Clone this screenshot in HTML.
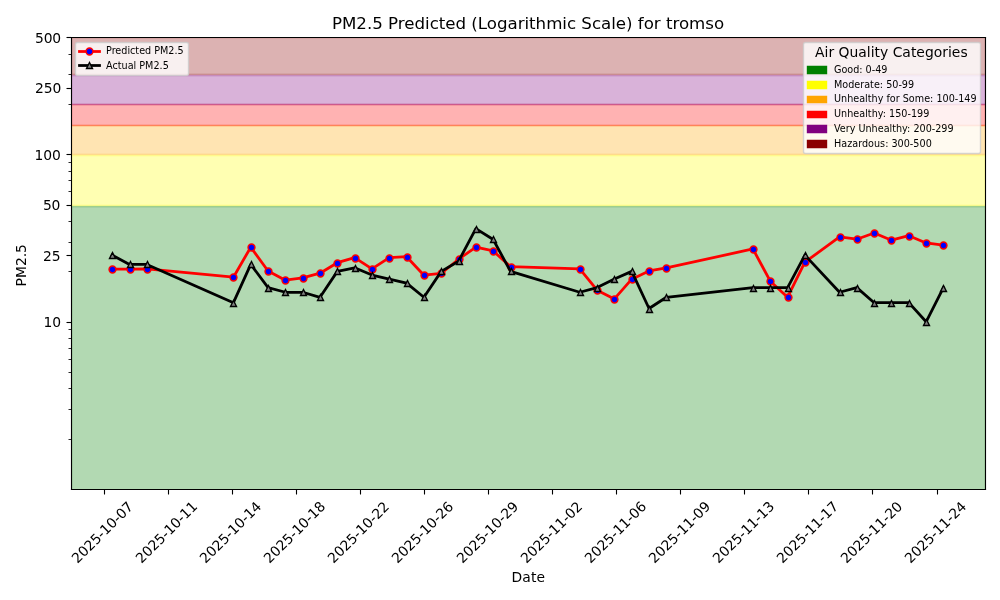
<!DOCTYPE html>
<html lang="en"><head><meta charset="utf-8"><title>PM2.5 Predicted (Logarithmic Scale) for tromso</title>
<style>html,body{margin:0;padding:0;background:#fff;overflow:hidden}body{width:1000px;height:600px}text{fill:#000;white-space:pre}</style>
</head><body>
<svg width="1000" height="600" viewBox="0 0 1000 600" style="display:block;font-family:'DejaVu Sans','Liberation Sans',sans-serif">
<defs><clipPath id="c0"><rect x="71" y="37" width="914" height="452"/></clipPath></defs>
<path d="M0 600L1000 600L1000 0L0 0Z" fill="#ffffff"/>
<path d="M71 489L985 489L985 37L71 37Z" fill="#ffffff"/>
<path d="M71.5 3000L985.5 3000L985.5 206.5L71.5 206.5Z" fill="#008000" fill-opacity="0.3" stroke="#008000" stroke-width="1.39" stroke-opacity="0.3" clip-path="url(#c0)"/>
<path d="M71.5 205.5L985.5 205.5L985.5 155.5L71.5 155.5Z" fill="#ffff00" fill-opacity="0.3" stroke="#ffff00" stroke-width="1.39" stroke-opacity="0.3" clip-path="url(#c0)"/>
<path d="M71.5 154.5L985.5 154.5L985.5 125.5L71.5 125.5Z" fill="#ffa500" fill-opacity="0.3" stroke="#ffa500" stroke-width="1.39" stroke-opacity="0.3" clip-path="url(#c0)"/>
<path d="M71.5 125.5L985.5 125.5L985.5 104.5L71.5 104.5Z" fill="#ff0000" fill-opacity="0.3" stroke="#ff0000" stroke-width="1.39" stroke-opacity="0.3" clip-path="url(#c0)"/>
<path d="M71.5 104.5L985.5 104.5L985.5 75.5L71.5 75.5Z" fill="#800080" fill-opacity="0.3" stroke="#800080" stroke-width="1.39" stroke-opacity="0.3" clip-path="url(#c0)"/>
<path d="M71.5 74.5L985.5 74.5L985.5 37.5L71.5 37.5Z" fill="#8b0000" fill-opacity="0.3" stroke="#8b0000" stroke-width="1.39" stroke-opacity="0.3" clip-path="url(#c0)"/>
<g fill="#000000" stroke="#000000" stroke-width="1.11" stroke-linejoin="round"><path d="M104.5 489.5L104.5 494.5"/></g>
<text font-size="13.89" textLength="79.88" transform="translate(77.59 564) rotate(-45)">2025-10-07</text>
<g fill="#000000" stroke="#000000" stroke-width="1.11" stroke-linejoin="round"><path d="M168.5 489.5L168.5 494.5"/></g>
<text font-size="13.89" textLength="80.12" transform="translate(141.59 564) rotate(-45)">2025-10-11</text>
<g fill="#000000" stroke="#000000" stroke-width="1.11" stroke-linejoin="round"><path d="M232.5 489.5L232.5 494.5"/></g>
<text font-size="13.89" textLength="80" transform="translate(205.59 564) rotate(-45)">2025-10-14</text>
<g fill="#000000" stroke="#000000" stroke-width="1.11" stroke-linejoin="round"><path d="M296.5 489.5L296.5 494.5"/></g>
<text font-size="13.89" textLength="80.12" transform="translate(269.59 564) rotate(-45)">2025-10-18</text>
<g fill="#000000" stroke="#000000" stroke-width="1.11" stroke-linejoin="round"><path d="M360.5 489.5L360.5 494.5"/></g>
<text font-size="13.89" textLength="79.88" transform="translate(333.59 564) rotate(-45)">2025-10-22</text>
<g fill="#000000" stroke="#000000" stroke-width="1.11" stroke-linejoin="round"><path d="M424.5 489.5L424.5 494.5"/></g>
<text font-size="13.89" textLength="80" transform="translate(397.59 564) rotate(-45)">2025-10-26</text>
<g fill="#000000" stroke="#000000" stroke-width="1.11" stroke-linejoin="round"><path d="M488.5 489.5L488.5 494.5"/></g>
<text font-size="13.89" textLength="80" transform="translate(462.59 564) rotate(-45)">2025-10-29</text>
<g fill="#000000" stroke="#000000" stroke-width="1.11" stroke-linejoin="round"><path d="M552.5 489.5L552.5 494.5"/></g>
<text font-size="13.89" textLength="80" transform="translate(526.59 564) rotate(-45)">2025-11-02</text>
<g fill="#000000" stroke="#000000" stroke-width="1.11" stroke-linejoin="round"><path d="M616.5 489.5L616.5 494.5"/></g>
<text font-size="13.89" textLength="80.12" transform="translate(590.59 564) rotate(-45)">2025-11-06</text>
<g fill="#000000" stroke="#000000" stroke-width="1.11" stroke-linejoin="round"><path d="M680.5 489.5L680.5 494.5"/></g>
<text font-size="13.89" textLength="80.12" transform="translate(654.59 564) rotate(-45)">2025-11-09</text>
<g fill="#000000" stroke="#000000" stroke-width="1.11" stroke-linejoin="round"><path d="M744.5 489.5L744.5 494.5"/></g>
<text font-size="13.89" textLength="80.12" transform="translate(718.59 564) rotate(-45)">2025-11-13</text>
<g fill="#000000" stroke="#000000" stroke-width="1.11" stroke-linejoin="round"><path d="M808.5 489.5L808.5 494.5"/></g>
<text font-size="13.89" textLength="80.12" transform="translate(782.59 564) rotate(-45)">2025-11-17</text>
<g fill="#000000" stroke="#000000" stroke-width="1.11" stroke-linejoin="round"><path d="M872.5 489.5L872.5 494.5"/></g>
<text font-size="13.89" textLength="80" transform="translate(846.59 564) rotate(-45)">2025-11-20</text>
<g fill="#000000" stroke="#000000" stroke-width="1.11" stroke-linejoin="round"><path d="M937.5 489.5L937.5 494.5"/></g>
<text font-size="13.89" textLength="80" transform="translate(910.59 564) rotate(-45)">2025-11-24</text>
<text font-size="13.89" textLength="33.38" x="511.62" y="582">Date</text>
<g fill="#000000" stroke="#000000" stroke-width="1.11" stroke-linejoin="round"><path d="M71.5 322.5L66.5 322.5"/></g>
<text font-size="13.89" textLength="17.62" x="43.44" y="327">10</text>
<g fill="#000000" stroke="#000000" stroke-width="1.11" stroke-linejoin="round"><path d="M71.5 255.5L66.5 255.5"/></g>
<text font-size="13.89" textLength="17.5" x="43" y="261">25</text>
<g fill="#000000" stroke="#000000" stroke-width="1.11" stroke-linejoin="round"><path d="M71.5 205.5L66.5 205.5"/></g>
<text font-size="13.89" textLength="17.5" x="42.94" y="210">50</text>
<g fill="#000000" stroke="#000000" stroke-width="1.11" stroke-linejoin="round"><path d="M71.5 154.5L66.5 154.5"/></g>
<text font-size="13.89" textLength="26.38" x="34.44" y="160">100</text>
<g fill="#000000" stroke="#000000" stroke-width="1.11" stroke-linejoin="round"><path d="M71.5 88.5L66.5 88.5"/></g>
<text font-size="13.89" textLength="26.25" x="35" y="93">250</text>
<g fill="#000000" stroke="#000000" stroke-width="1.11" stroke-linejoin="round"><path d="M71.5 37.5L66.5 37.5"/></g>
<text font-size="13.89" textLength="26.25" x="34.94" y="43">500</text>
<g fill="#000000" stroke="#000000" stroke-width="0.83" stroke-linejoin="round"><path d="M71.5 439.5L68.5 439.5"/></g>
<g fill="#000000" stroke="#000000" stroke-width="0.83" stroke-linejoin="round"><path d="M71.5 409.5L68.5 409.5"/></g>
<g fill="#000000" stroke="#000000" stroke-width="0.83" stroke-linejoin="round"><path d="M71.5 388.5L68.5 388.5"/></g>
<g fill="#000000" stroke="#000000" stroke-width="0.83" stroke-linejoin="round"><path d="M71.5 372.5L68.5 372.5"/></g>
<g fill="#000000" stroke="#000000" stroke-width="0.83" stroke-linejoin="round"><path d="M71.5 359.5L68.5 359.5"/></g>
<g fill="#000000" stroke="#000000" stroke-width="0.83" stroke-linejoin="round"><path d="M71.5 348.5L68.5 348.5"/></g>
<g fill="#000000" stroke="#000000" stroke-width="0.83" stroke-linejoin="round"><path d="M71.5 338.5L68.5 338.5"/></g>
<g fill="#000000" stroke="#000000" stroke-width="0.83" stroke-linejoin="round"><path d="M71.5 329.5L68.5 329.5"/></g>
<g fill="#000000" stroke="#000000" stroke-width="0.83" stroke-linejoin="round"><path d="M71.5 271.5L68.5 271.5"/></g>
<g fill="#000000" stroke="#000000" stroke-width="0.83" stroke-linejoin="round"><path d="M71.5 242.5L68.5 242.5"/></g>
<g fill="#000000" stroke="#000000" stroke-width="0.83" stroke-linejoin="round"><path d="M71.5 221.5L68.5 221.5"/></g>
<g fill="#000000" stroke="#000000" stroke-width="0.83" stroke-linejoin="round"><path d="M71.5 191.5L68.5 191.5"/></g>
<g fill="#000000" stroke="#000000" stroke-width="0.83" stroke-linejoin="round"><path d="M71.5 180.5L68.5 180.5"/></g>
<g fill="#000000" stroke="#000000" stroke-width="0.83" stroke-linejoin="round"><path d="M71.5 171.5L68.5 171.5"/></g>
<g fill="#000000" stroke="#000000" stroke-width="0.83" stroke-linejoin="round"><path d="M71.5 162.5L68.5 162.5"/></g>
<g fill="#000000" stroke="#000000" stroke-width="0.83" stroke-linejoin="round"><path d="M71.5 104.5L68.5 104.5"/></g>
<g fill="#000000" stroke="#000000" stroke-width="0.83" stroke-linejoin="round"><path d="M71.5 74.5L68.5 74.5"/></g>
<g fill="#000000" stroke="#000000" stroke-width="0.83" stroke-linejoin="round"><path d="M71.5 54.5L68.5 54.5"/></g>
<text font-size="13.89" textLength="42.25" transform="translate(26 286.38) rotate(-90)">PM2.5</text>
<path d="M112.21 269.2L129.53 269.2L146.85 268.95L233.43 277.2L250.75 247.2L268.07 270.95L285.39 280.2L302.7 277.8L320.02 273.2L337.34 262.7L354.65 257.7L371.97 268.95L389.29 257.7L406.61 256.7L423.92 275.2L441.24 273.45L458.56 259.2L475.87 247.2L493.19 250.95L510.51 266.7L579.78 268.95L597.1 290.2L614.41 298.95L631.73 279.2L649.05 270.95L666.36 267.95L752.95 248.95L770.27 281.2L787.58 297.2L804.9 262.2L839.54 236.95L856.85 239.2L874.17 232.95L891.49 240.2L908.8 235.7L926.12 242.95L943.44 245.2" fill="none" stroke="#ff0000" stroke-width="2.78" stroke-linejoin="round" stroke-linecap="square" clip-path="url(#c0)"/>
<g fill="#0000ff" stroke="#ff0000" stroke-width="1.39" stroke-linejoin="round" clip-path="url(#c0)"><path d="M112.5 272.97C113.42 272.97 114.3 272.61 114.96 271.96C115.61 271.3 115.97 270.42 115.97 269.5C115.97 268.58 115.61 267.7 114.96 267.04C114.3 266.39 113.42 266.03 112.5 266.03C111.58 266.03 110.7 266.39 110.04 267.04C109.39 267.7 109.03 268.58 109.03 269.5C109.03 270.42 109.39 271.3 110.04 271.96C110.7 272.61 111.58 272.97 112.5 272.97Z"/><path d="M130.5 272.97C131.42 272.97 132.3 272.61 132.96 271.96C133.61 271.3 133.97 270.42 133.97 269.5C133.97 268.58 133.61 267.7 132.96 267.04C132.3 266.39 131.42 266.03 130.5 266.03C129.58 266.03 128.7 266.39 128.04 267.04C127.39 267.7 127.03 268.58 127.03 269.5C127.03 270.42 127.39 271.3 128.04 271.96C128.7 272.61 129.58 272.97 130.5 272.97Z"/><path d="M147.5 272.97C148.42 272.97 149.3 272.61 149.96 271.96C150.61 271.3 150.97 270.42 150.97 269.5C150.97 268.58 150.61 267.7 149.96 267.04C149.3 266.39 148.42 266.03 147.5 266.03C146.58 266.03 145.7 266.39 145.04 267.04C144.39 267.7 144.03 268.58 144.03 269.5C144.03 270.42 144.39 271.3 145.04 271.96C145.7 272.61 146.58 272.97 147.5 272.97Z"/><path d="M233.5 280.97C234.42 280.97 235.3 280.61 235.96 279.96C236.61 279.3 236.97 278.42 236.97 277.5C236.97 276.58 236.61 275.7 235.96 275.04C235.3 274.39 234.42 274.03 233.5 274.03C232.58 274.03 231.7 274.39 231.04 275.04C230.39 275.7 230.03 276.58 230.03 277.5C230.03 278.42 230.39 279.3 231.04 279.96C231.7 280.61 232.58 280.97 233.5 280.97Z"/><path d="M251.5 250.97C252.42 250.97 253.3 250.61 253.96 249.96C254.61 249.3 254.97 248.42 254.97 247.5C254.97 246.58 254.61 245.7 253.96 245.04C253.3 244.39 252.42 244.03 251.5 244.03C250.58 244.03 249.7 244.39 249.04 245.04C248.39 245.7 248.03 246.58 248.03 247.5C248.03 248.42 248.39 249.3 249.04 249.96C249.7 250.61 250.58 250.97 251.5 250.97Z"/><path d="M268.5 274.97C269.42 274.97 270.3 274.61 270.96 273.96C271.61 273.3 271.97 272.42 271.97 271.5C271.97 270.58 271.61 269.7 270.96 269.04C270.3 268.39 269.42 268.03 268.5 268.03C267.58 268.03 266.7 268.39 266.04 269.04C265.39 269.7 265.03 270.58 265.03 271.5C265.03 272.42 265.39 273.3 266.04 273.96C266.7 274.61 267.58 274.97 268.5 274.97Z"/><path d="M285.5 283.97C286.42 283.97 287.3 283.61 287.96 282.96C288.61 282.3 288.97 281.42 288.97 280.5C288.97 279.58 288.61 278.7 287.96 278.04C287.3 277.39 286.42 277.03 285.5 277.03C284.58 277.03 283.7 277.39 283.04 278.04C282.39 278.7 282.03 279.58 282.03 280.5C282.03 281.42 282.39 282.3 283.04 282.96C283.7 283.61 284.58 283.97 285.5 283.97Z"/><path d="M303.5 281.97C304.42 281.97 305.3 281.61 305.96 280.96C306.61 280.3 306.97 279.42 306.97 278.5C306.97 277.58 306.61 276.7 305.96 276.04C305.3 275.39 304.42 275.03 303.5 275.03C302.58 275.03 301.7 275.39 301.04 276.04C300.39 276.7 300.03 277.58 300.03 278.5C300.03 279.42 300.39 280.3 301.04 280.96C301.7 281.61 302.58 281.97 303.5 281.97Z"/><path d="M320.5 276.97C321.42 276.97 322.3 276.61 322.96 275.96C323.61 275.3 323.97 274.42 323.97 273.5C323.97 272.58 323.61 271.7 322.96 271.04C322.3 270.39 321.42 270.03 320.5 270.03C319.58 270.03 318.7 270.39 318.04 271.04C317.39 271.7 317.03 272.58 317.03 273.5C317.03 274.42 317.39 275.3 318.04 275.96C318.7 276.61 319.58 276.97 320.5 276.97Z"/><path d="M337.5 266.97C338.42 266.97 339.3 266.61 339.96 265.96C340.61 265.3 340.97 264.42 340.97 263.5C340.97 262.58 340.61 261.7 339.96 261.04C339.3 260.39 338.42 260.03 337.5 260.03C336.58 260.03 335.7 260.39 335.04 261.04C334.39 261.7 334.03 262.58 334.03 263.5C334.03 264.42 334.39 265.3 335.04 265.96C335.7 266.61 336.58 266.97 337.5 266.97Z"/><path d="M355.5 261.97C356.42 261.97 357.3 261.61 357.96 260.96C358.61 260.3 358.97 259.42 358.97 258.5C358.97 257.58 358.61 256.7 357.96 256.04C357.3 255.39 356.42 255.03 355.5 255.03C354.58 255.03 353.7 255.39 353.04 256.04C352.39 256.7 352.03 257.58 352.03 258.5C352.03 259.42 352.39 260.3 353.04 260.96C353.7 261.61 354.58 261.97 355.5 261.97Z"/><path d="M372.5 272.97C373.42 272.97 374.3 272.61 374.96 271.96C375.61 271.3 375.97 270.42 375.97 269.5C375.97 268.58 375.61 267.7 374.96 267.04C374.3 266.39 373.42 266.03 372.5 266.03C371.58 266.03 370.7 266.39 370.04 267.04C369.39 267.7 369.03 268.58 369.03 269.5C369.03 270.42 369.39 271.3 370.04 271.96C370.7 272.61 371.58 272.97 372.5 272.97Z"/><path d="M389.5 261.97C390.42 261.97 391.3 261.61 391.96 260.96C392.61 260.3 392.97 259.42 392.97 258.5C392.97 257.58 392.61 256.7 391.96 256.04C391.3 255.39 390.42 255.03 389.5 255.03C388.58 255.03 387.7 255.39 387.04 256.04C386.39 256.7 386.03 257.58 386.03 258.5C386.03 259.42 386.39 260.3 387.04 260.96C387.7 261.61 388.58 261.97 389.5 261.97Z"/><path d="M407.5 260.97C408.42 260.97 409.3 260.61 409.96 259.96C410.61 259.3 410.97 258.42 410.97 257.5C410.97 256.58 410.61 255.7 409.96 255.04C409.3 254.39 408.42 254.03 407.5 254.03C406.58 254.03 405.7 254.39 405.04 255.04C404.39 255.7 404.03 256.58 404.03 257.5C404.03 258.42 404.39 259.3 405.04 259.96C405.7 260.61 406.58 260.97 407.5 260.97Z"/><path d="M424.5 278.97C425.42 278.97 426.3 278.61 426.96 277.96C427.61 277.3 427.97 276.42 427.97 275.5C427.97 274.58 427.61 273.7 426.96 273.04C426.3 272.39 425.42 272.03 424.5 272.03C423.58 272.03 422.7 272.39 422.04 273.04C421.39 273.7 421.03 274.58 421.03 275.5C421.03 276.42 421.39 277.3 422.04 277.96C422.7 278.61 423.58 278.97 424.5 278.97Z"/><path d="M441.5 276.97C442.42 276.97 443.3 276.61 443.96 275.96C444.61 275.3 444.97 274.42 444.97 273.5C444.97 272.58 444.61 271.7 443.96 271.04C443.3 270.39 442.42 270.03 441.5 270.03C440.58 270.03 439.7 270.39 439.04 271.04C438.39 271.7 438.03 272.58 438.03 273.5C438.03 274.42 438.39 275.3 439.04 275.96C439.7 276.61 440.58 276.97 441.5 276.97Z"/><path d="M459.5 262.97C460.42 262.97 461.3 262.61 461.96 261.96C462.61 261.3 462.97 260.42 462.97 259.5C462.97 258.58 462.61 257.7 461.96 257.04C461.3 256.39 460.42 256.03 459.5 256.03C458.58 256.03 457.7 256.39 457.04 257.04C456.39 257.7 456.03 258.58 456.03 259.5C456.03 260.42 456.39 261.3 457.04 261.96C457.7 262.61 458.58 262.97 459.5 262.97Z"/><path d="M476.5 250.97C477.42 250.97 478.3 250.61 478.96 249.96C479.61 249.3 479.97 248.42 479.97 247.5C479.97 246.58 479.61 245.7 478.96 245.04C478.3 244.39 477.42 244.03 476.5 244.03C475.58 244.03 474.7 244.39 474.04 245.04C473.39 245.7 473.03 246.58 473.03 247.5C473.03 248.42 473.39 249.3 474.04 249.96C474.7 250.61 475.58 250.97 476.5 250.97Z"/><path d="M493.5 254.97C494.42 254.97 495.3 254.61 495.96 253.96C496.61 253.3 496.97 252.42 496.97 251.5C496.97 250.58 496.61 249.7 495.96 249.04C495.3 248.39 494.42 248.03 493.5 248.03C492.58 248.03 491.7 248.39 491.04 249.04C490.39 249.7 490.03 250.58 490.03 251.5C490.03 252.42 490.39 253.3 491.04 253.96C491.7 254.61 492.58 254.97 493.5 254.97Z"/><path d="M511.5 270.97C512.42 270.97 513.3 270.61 513.96 269.96C514.61 269.3 514.97 268.42 514.97 267.5C514.97 266.58 514.61 265.7 513.96 265.04C513.3 264.39 512.42 264.03 511.5 264.03C510.58 264.03 509.7 264.39 509.04 265.04C508.39 265.7 508.03 266.58 508.03 267.5C508.03 268.42 508.39 269.3 509.04 269.96C509.7 270.61 510.58 270.97 511.5 270.97Z"/><path d="M580.5 272.97C581.42 272.97 582.3 272.61 582.96 271.96C583.61 271.3 583.97 270.42 583.97 269.5C583.97 268.58 583.61 267.7 582.96 267.04C582.3 266.39 581.42 266.03 580.5 266.03C579.58 266.03 578.7 266.39 578.04 267.04C577.39 267.7 577.03 268.58 577.03 269.5C577.03 270.42 577.39 271.3 578.04 271.96C578.7 272.61 579.58 272.97 580.5 272.97Z"/><path d="M597.5 293.97C598.42 293.97 599.3 293.61 599.96 292.96C600.61 292.3 600.97 291.42 600.97 290.5C600.97 289.58 600.61 288.7 599.96 288.04C599.3 287.39 598.42 287.03 597.5 287.03C596.58 287.03 595.7 287.39 595.04 288.04C594.39 288.7 594.03 289.58 594.03 290.5C594.03 291.42 594.39 292.3 595.04 292.96C595.7 293.61 596.58 293.97 597.5 293.97Z"/><path d="M614.5 302.97C615.42 302.97 616.3 302.61 616.96 301.96C617.61 301.3 617.97 300.42 617.97 299.5C617.97 298.58 617.61 297.7 616.96 297.04C616.3 296.39 615.42 296.03 614.5 296.03C613.58 296.03 612.7 296.39 612.04 297.04C611.39 297.7 611.03 298.58 611.03 299.5C611.03 300.42 611.39 301.3 612.04 301.96C612.7 302.61 613.58 302.97 614.5 302.97Z"/><path d="M632.5 282.97C633.42 282.97 634.3 282.61 634.96 281.96C635.61 281.3 635.97 280.42 635.97 279.5C635.97 278.58 635.61 277.7 634.96 277.04C634.3 276.39 633.42 276.03 632.5 276.03C631.58 276.03 630.7 276.39 630.04 277.04C629.39 277.7 629.03 278.58 629.03 279.5C629.03 280.42 629.39 281.3 630.04 281.96C630.7 282.61 631.58 282.97 632.5 282.97Z"/><path d="M649.5 274.97C650.42 274.97 651.3 274.61 651.96 273.96C652.61 273.3 652.97 272.42 652.97 271.5C652.97 270.58 652.61 269.7 651.96 269.04C651.3 268.39 650.42 268.03 649.5 268.03C648.58 268.03 647.7 268.39 647.04 269.04C646.39 269.7 646.03 270.58 646.03 271.5C646.03 272.42 646.39 273.3 647.04 273.96C647.7 274.61 648.58 274.97 649.5 274.97Z"/><path d="M666.5 271.97C667.42 271.97 668.3 271.61 668.96 270.96C669.61 270.3 669.97 269.42 669.97 268.5C669.97 267.58 669.61 266.7 668.96 266.04C668.3 265.39 667.42 265.03 666.5 265.03C665.58 265.03 664.7 265.39 664.04 266.04C663.39 266.7 663.03 267.58 663.03 268.5C663.03 269.42 663.39 270.3 664.04 270.96C664.7 271.61 665.58 271.97 666.5 271.97Z"/><path d="M753.5 252.97C754.42 252.97 755.3 252.61 755.96 251.96C756.61 251.3 756.97 250.42 756.97 249.5C756.97 248.58 756.61 247.7 755.96 247.04C755.3 246.39 754.42 246.03 753.5 246.03C752.58 246.03 751.7 246.39 751.04 247.04C750.39 247.7 750.03 248.58 750.03 249.5C750.03 250.42 750.39 251.3 751.04 251.96C751.7 252.61 752.58 252.97 753.5 252.97Z"/><path d="M770.5 284.97C771.42 284.97 772.3 284.61 772.96 283.96C773.61 283.3 773.97 282.42 773.97 281.5C773.97 280.58 773.61 279.7 772.96 279.04C772.3 278.39 771.42 278.03 770.5 278.03C769.58 278.03 768.7 278.39 768.04 279.04C767.39 279.7 767.03 280.58 767.03 281.5C767.03 282.42 767.39 283.3 768.04 283.96C768.7 284.61 769.58 284.97 770.5 284.97Z"/><path d="M788.5 300.97C789.42 300.97 790.3 300.61 790.96 299.96C791.61 299.3 791.97 298.42 791.97 297.5C791.97 296.58 791.61 295.7 790.96 295.04C790.3 294.39 789.42 294.03 788.5 294.03C787.58 294.03 786.7 294.39 786.04 295.04C785.39 295.7 785.03 296.58 785.03 297.5C785.03 298.42 785.39 299.3 786.04 299.96C786.7 300.61 787.58 300.97 788.5 300.97Z"/><path d="M805.5 265.97C806.42 265.97 807.3 265.61 807.96 264.96C808.61 264.3 808.97 263.42 808.97 262.5C808.97 261.58 808.61 260.7 807.96 260.04C807.3 259.39 806.42 259.03 805.5 259.03C804.58 259.03 803.7 259.39 803.04 260.04C802.39 260.7 802.03 261.58 802.03 262.5C802.03 263.42 802.39 264.3 803.04 264.96C803.7 265.61 804.58 265.97 805.5 265.97Z"/><path d="M840.5 240.97C841.42 240.97 842.3 240.61 842.96 239.96C843.61 239.3 843.97 238.42 843.97 237.5C843.97 236.58 843.61 235.7 842.96 235.04C842.3 234.39 841.42 234.03 840.5 234.03C839.58 234.03 838.7 234.39 838.04 235.04C837.39 235.7 837.03 236.58 837.03 237.5C837.03 238.42 837.39 239.3 838.04 239.96C838.7 240.61 839.58 240.97 840.5 240.97Z"/><path d="M857.5 242.97C858.42 242.97 859.3 242.61 859.96 241.96C860.61 241.3 860.97 240.42 860.97 239.5C860.97 238.58 860.61 237.7 859.96 237.04C859.3 236.39 858.42 236.03 857.5 236.03C856.58 236.03 855.7 236.39 855.04 237.04C854.39 237.7 854.03 238.58 854.03 239.5C854.03 240.42 854.39 241.3 855.04 241.96C855.7 242.61 856.58 242.97 857.5 242.97Z"/><path d="M874.5 236.97C875.42 236.97 876.3 236.61 876.96 235.96C877.61 235.3 877.97 234.42 877.97 233.5C877.97 232.58 877.61 231.7 876.96 231.04C876.3 230.39 875.42 230.03 874.5 230.03C873.58 230.03 872.7 230.39 872.04 231.04C871.39 231.7 871.03 232.58 871.03 233.5C871.03 234.42 871.39 235.3 872.04 235.96C872.7 236.61 873.58 236.97 874.5 236.97Z"/><path d="M891.5 243.97C892.42 243.97 893.3 243.61 893.96 242.96C894.61 242.3 894.97 241.42 894.97 240.5C894.97 239.58 894.61 238.7 893.96 238.04C893.3 237.39 892.42 237.03 891.5 237.03C890.58 237.03 889.7 237.39 889.04 238.04C888.39 238.7 888.03 239.58 888.03 240.5C888.03 241.42 888.39 242.3 889.04 242.96C889.7 243.61 890.58 243.97 891.5 243.97Z"/><path d="M909.5 239.97C910.42 239.97 911.3 239.61 911.96 238.96C912.61 238.3 912.97 237.42 912.97 236.5C912.97 235.58 912.61 234.7 911.96 234.04C911.3 233.39 910.42 233.03 909.5 233.03C908.58 233.03 907.7 233.39 907.04 234.04C906.39 234.7 906.03 235.58 906.03 236.5C906.03 237.42 906.39 238.3 907.04 238.96C907.7 239.61 908.58 239.97 909.5 239.97Z"/><path d="M926.5 246.97C927.42 246.97 928.3 246.61 928.96 245.96C929.61 245.3 929.97 244.42 929.97 243.5C929.97 242.58 929.61 241.7 928.96 241.04C928.3 240.39 927.42 240.03 926.5 240.03C925.58 240.03 924.7 240.39 924.04 241.04C923.39 241.7 923.03 242.58 923.03 243.5C923.03 244.42 923.39 245.3 924.04 245.96C924.7 246.61 925.58 246.97 926.5 246.97Z"/><path d="M943.5 248.97C944.42 248.97 945.3 248.61 945.96 247.96C946.61 247.3 946.97 246.42 946.97 245.5C946.97 244.58 946.61 243.7 945.96 243.04C945.3 242.39 944.42 242.03 943.5 242.03C942.58 242.03 941.7 242.39 941.04 243.04C940.39 243.7 940.03 244.58 940.03 245.5C940.03 246.42 940.39 247.3 941.04 247.96C941.7 248.61 942.58 248.97 943.5 248.97Z"/></g>
<path d="M112.21 255.14L129.53 264.43L146.85 264.43L233.43 302.68L250.75 264.43L268.07 287.59L285.39 292.28L302.7 292.28L320.02 297.29L337.34 271.36L354.65 267.81L371.97 275.09L389.29 279.02L406.61 283.18L423.92 297.29L441.24 271.36L458.56 261.2L475.87 228.63L493.19 239.5L510.51 271.36L579.78 292.28L597.1 287.59L614.41 279.02L631.73 271.36L649.05 308.5L666.36 297.29L752.95 287.59L770.27 287.59L787.58 287.59L804.9 255.14L839.54 292.28L856.85 287.59L874.17 302.68L891.49 302.68L908.8 302.68L926.12 321.76L943.44 287.59" fill="none" stroke="#000000" stroke-width="2.78" stroke-linejoin="round" stroke-linecap="square" clip-path="url(#c0)"/>
<g fill="#808080" stroke="#000000" stroke-width="1.39" clip-path="url(#c0)"><path d="M112.5 252.5L109.5 258.5L115.5 258.5Z"/><path d="M130.5 261.5L127.5 267.5L133.5 267.5Z"/><path d="M147.5 261.5L144.5 267.5L150.5 267.5Z"/><path d="M233.5 300.5L230.5 306.5L236.5 306.5Z"/><path d="M251.5 261.5L248.5 267.5L254.5 267.5Z"/><path d="M268.5 285.5L265.5 291.5L271.5 291.5Z"/><path d="M285.5 289.5L282.5 295.5L288.5 295.5Z"/><path d="M303.5 289.5L300.5 295.5L306.5 295.5Z"/><path d="M320.5 294.5L317.5 300.5L323.5 300.5Z"/><path d="M337.5 268.5L334.5 274.5L340.5 274.5Z"/><path d="M355.5 265.5L352.5 271.5L358.5 271.5Z"/><path d="M372.5 272.5L369.5 278.5L375.5 278.5Z"/><path d="M389.5 276.5L386.5 282.5L392.5 282.5Z"/><path d="M407.5 280.5L404.5 286.5L410.5 286.5Z"/><path d="M424.5 294.5L421.5 300.5L427.5 300.5Z"/><path d="M441.5 268.5L438.5 274.5L444.5 274.5Z"/><path d="M459.5 258.5L456.5 264.5L462.5 264.5Z"/><path d="M476.5 226.5L473.5 232.5L479.5 232.5Z"/><path d="M493.5 236.5L490.5 242.5L496.5 242.5Z"/><path d="M511.5 268.5L508.5 274.5L514.5 274.5Z"/><path d="M580.5 289.5L577.5 295.5L583.5 295.5Z"/><path d="M597.5 285.5L594.5 291.5L600.5 291.5Z"/><path d="M614.5 276.5L611.5 282.5L617.5 282.5Z"/><path d="M632.5 268.5L629.5 274.5L635.5 274.5Z"/><path d="M649.5 306.5L646.5 312.5L652.5 312.5Z"/><path d="M666.5 294.5L663.5 300.5L669.5 300.5Z"/><path d="M753.5 285.5L750.5 291.5L756.5 291.5Z"/><path d="M770.5 285.5L767.5 291.5L773.5 291.5Z"/><path d="M788.5 285.5L785.5 291.5L791.5 291.5Z"/><path d="M805.5 252.5L802.5 258.5L808.5 258.5Z"/><path d="M840.5 289.5L837.5 295.5L843.5 295.5Z"/><path d="M857.5 285.5L854.5 291.5L860.5 291.5Z"/><path d="M874.5 300.5L871.5 306.5L877.5 306.5Z"/><path d="M891.5 300.5L888.5 306.5L894.5 306.5Z"/><path d="M909.5 300.5L906.5 306.5L912.5 306.5Z"/><path d="M926.5 319.5L923.5 325.5L929.5 325.5Z"/><path d="M943.5 285.5L940.5 291.5L946.5 291.5Z"/></g>
<path d="M71.5 489.5L71.5 37.5" fill="none" stroke="#000000" stroke-width="1.11" stroke-linecap="square"/>
<path d="M985.5 489.5L985.5 37.5" fill="none" stroke="#000000" stroke-width="1.11" stroke-linecap="square"/>
<path d="M71.5 489.5L985.5 489.5" fill="none" stroke="#000000" stroke-width="1.11" stroke-linecap="square"/>
<path d="M71.5 37.5L985.5 37.5" fill="none" stroke="#000000" stroke-width="1.11" stroke-linecap="square"/>
<text font-size="16.67" textLength="392.12" x="332" y="29">PM2.5 Predicted (Logarithmic Scale) for tromso</text>
<path d="M805.5 153.5L978.5 153.5Q980.5 153.5 980.5 151.5L980.5 44.5Q980.5 42.5 978.5 42.5L805.5 42.5Q803.5 42.5 803.5 44.5L803.5 151.5Q803.5 153.5 805.5 153.5Z" fill="#ffffff" fill-opacity="0.8" stroke="#cccccc" stroke-width="1.39" stroke-opacity="0.8"/>
<text font-size="13.89" textLength="152.62" x="815" y="57">Air Quality Categories</text>
<path d="M807.5 73.5L826.5 73.5L826.5 66.5L807.5 66.5Z" fill="#008000" stroke="#008000" stroke-width="1.39"/>
<text font-size="9.64" textLength="53.38" x="834" y="73">Good: 0-49</text>
<path d="M807.5 88.5L826.5 88.5L826.5 81.5L807.5 81.5Z" fill="#ffff00" stroke="#ffff00" stroke-width="1.39"/>
<text font-size="9.64" textLength="80.12" x="834" y="88">Moderate: 50-99</text>
<path d="M807.5 102.5L826.5 102.5L826.5 96.5L807.5 96.5Z" fill="#ffa500" stroke="#ffa500" stroke-width="1.39"/>
<text font-size="9.64" textLength="142.62" x="834" y="102">Unhealthy for Some: 100-149</text>
<path d="M807.5 117.5L826.5 117.5L826.5 111.5L807.5 111.5Z" fill="#ff0000" stroke="#ff0000" stroke-width="1.39"/>
<text font-size="9.64" textLength="95.38" x="834" y="117">Unhealthy: 150-199</text>
<path d="M807.5 132.5L826.5 132.5L826.5 125.5L807.5 125.5Z" fill="#800080" stroke="#800080" stroke-width="1.39"/>
<text font-size="9.64" textLength="119.62" x="834" y="132">Very Unhealthy: 200-299</text>
<path d="M807.5 147.5L826.5 147.5L826.5 140.5L807.5 140.5Z" fill="#8b0000" stroke="#8b0000" stroke-width="1.39"/>
<text font-size="9.64" textLength="97.75" x="834" y="147">Hazardous: 300-500</text>
<path d="M77.5 75.5L186.5 75.5Q188.5 75.5 188.5 73.5L188.5 44.5Q188.5 42.5 186.5 42.5L77.5 42.5Q75.5 42.5 75.5 44.5L75.5 73.5Q75.5 75.5 77.5 75.5Z" fill="#ffffff" fill-opacity="0.8" stroke="#cccccc" stroke-width="1.39" stroke-opacity="0.8"/>
<path d="M79.5 51.5L89.5 51.5L99.5 51.5" fill="none" stroke="#ff0000" stroke-width="2.78" stroke-linejoin="round" stroke-linecap="square"/>
<g fill="#0000ff" stroke="#ff0000" stroke-width="1.39" stroke-linejoin="round"><path d="M89.5 54.97C90.42 54.97 91.3 54.61 91.96 53.96C92.61 53.3 92.97 52.42 92.97 51.5C92.97 50.58 92.61 49.7 91.96 49.04C91.3 48.39 90.42 48.03 89.5 48.03C88.58 48.03 87.7 48.39 87.04 49.04C86.39 49.7 86.03 50.58 86.03 51.5C86.03 52.42 86.39 53.3 87.04 53.96C87.7 54.61 88.58 54.97 89.5 54.97Z"/></g>
<text font-size="9.64" textLength="77.62" x="106" y="54">Predicted PM2.5</text>
<path d="M79.5 65.5L89.5 65.5L99.5 65.5" fill="none" stroke="#000000" stroke-width="2.78" stroke-linejoin="round" stroke-linecap="square"/>
<g fill="#808080" stroke="#000000" stroke-width="1.39"><path d="M89.5 62.5L86.5 68.5L92.5 68.5Z"/></g>
<text font-size="9.64" textLength="62.75" x="106" y="69">Actual PM2.5</text>
</svg>
</body></html>
